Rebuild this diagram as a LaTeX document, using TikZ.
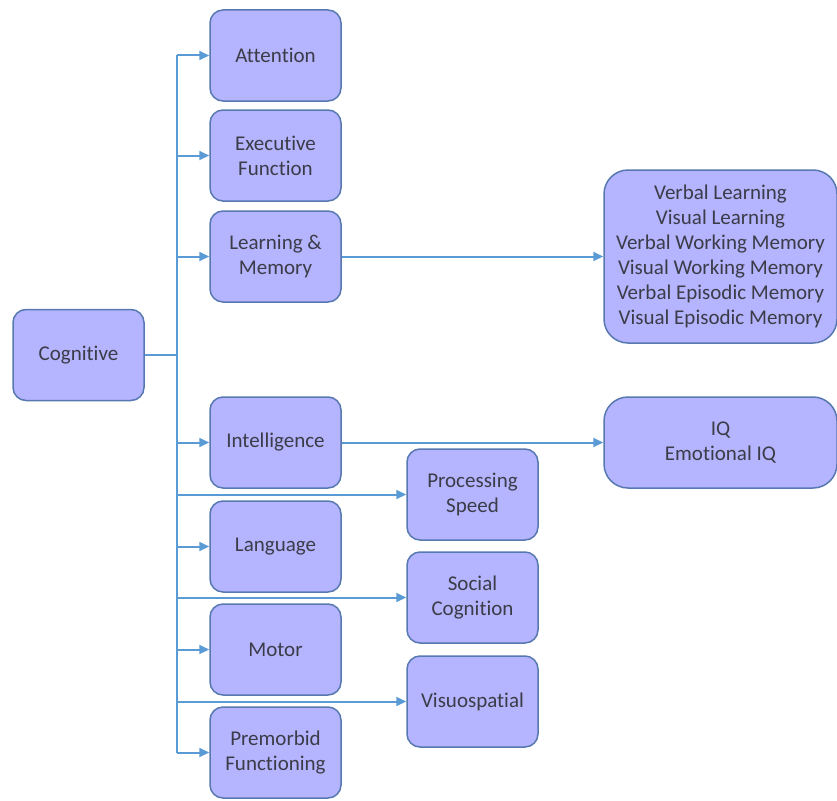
\documentclass[tikz,border=0pt]{standalone}
\usepackage{fontspec}
\setmainfont[Ligatures=NoCommon]{Carlito}
\usetikzlibrary{arrows.meta}
\definecolor{boxfill}{RGB}{180,180,255}
\definecolor{boxline}{RGB}{88,120,176}
\definecolor{arrowc}{RGB}{91,155,213}
\definecolor{txt}{RGB}{60,60,72}
\tikzset{
  box/.style={draw=boxline, line width=1.5pt, fill=boxfill, rounded corners=13pt,
    minimum width=131pt, minimum height=91pt, align=center, text=txt,
    font=\fontsize{21}{25}\selectfont, inner sep=0pt},
  bigbox/.style={box, minimum width=233pt, rounded corners=24pt},
  conn/.style={draw=arrowc, line width=2pt},
  arr/.style={conn, -{Triangle[length=10pt,width=9pt]}}
}
\begin{document}
\begin{tikzpicture}[x=1pt,y=-1pt]
\useasboundingbox (0,0) rectangle (837,800);
\node[box] (cog) at (78.5,355) {Cognitive};
\node[box] (att) at (275.5,55.5) {Attention};
\node[box] (exe) at (275.5,155.5) {Executive\\Function};
\node[box] (lm) at (275.5,256.5) {Learning \&\\Memory};
\node[box] (int) at (275.5,442.5) {Intelligence};
\node[box] (lan) at (275.5,546.5) {Language};
\node[box] (mot) at (275.5,649.5) {Motor};
\node[box] (pre) at (275.5,752.5) {Premorbid\\Functioning};
\node[box] (pro) at (472.5,494.5) {Processing\\Speed};
\node[box] (soc) at (472.5,597.5) {Social\\Cognition};
\node[box] (vis) at (472.5,701.5) {Visuospatial};
\node[bigbox, minimum height=173pt] (mem) at (720.5,256.5) {Verbal Learning\\Visual Learning\\Verbal Working Memory\\Visual Working Memory\\Verbal Episodic Memory\\Visual Episodic Memory};
\node[bigbox] (iq) at (720.5,442.5) {IQ\\Emotional IQ};
\coordinate (j) at (177,355);
\coordinate (top) at (177,55.5);
\coordinate (bot) at (177,752.5);
\draw[conn] (cog.east) -- (j);
\draw[conn] (top) -- (bot);
\draw[arr] (top) -- (att.west);
\draw[arr] (exe.west -| j) -- (exe.west);
\draw[arr] (lm.west -| j) -- (lm.west);
\draw[arr] (int.west -| j) -- (int.west);
\draw[arr] (lan.west -| j) -- (lan.west);
\draw[arr] (mot.west -| j) -- (mot.west);
\draw[arr] (bot) -- (pre.west);
\draw[arr] (pro.west -| j) -- (pro.west);
\draw[arr] (soc.west -| j) -- (soc.west);
\draw[arr] (vis.west -| j) -- (vis.west);
\draw[arr] (lm.east) -- (mem.west);
\draw[arr] (int.east) -- (iq.west);
\end{tikzpicture}
\end{document}
